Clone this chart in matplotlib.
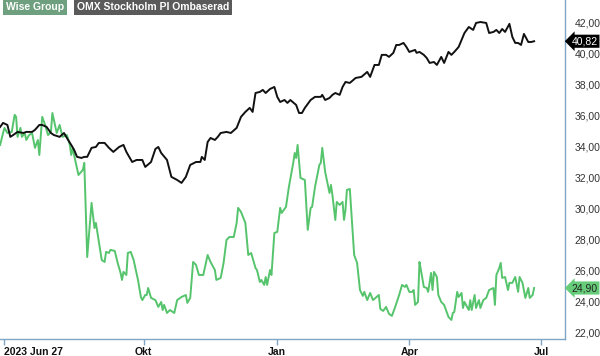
import numpy as np
import pandas as pd
import matplotlib
matplotlib.use("Agg")
import matplotlib.pyplot as plt
from matplotlib.patches import Rectangle
import matplotlib.transforms as mtransforms

plt.rcParams['font.family'] = ['Liberation Sans', 'DejaVu Sans']

# start date of the chart, series given as days after it
start = pd.Timestamp("2023-06-27")

# OMX Stockholm PI, rebased to Wise Group's start price
omx_days = [-3, -1, 2, 4, 6, 9, 13, 15, 19, 21, 24, 26, 29, 32, 34, 38, 41, 43, 46, 48,
            50, 53, 55, 57, 60, 63, 65, 69, 72, 75, 79, 82, 84, 88, 91, 95, 97, 101, 104, 106,
            108, 112, 115, 119, 122, 125, 128, 132, 135, 136, 138, 140, 142, 145, 147, 149, 153, 156, 160, 163,
            166, 169, 171, 173, 176, 178, 180, 183, 186, 188, 190, 193, 195, 197, 201, 203, 205, 207, 211, 214,
            218, 219, 221, 224, 226, 228, 231, 233, 235, 238, 242, 246, 250, 252, 255, 258, 260, 263, 265, 268,
            270, 272, 275, 277, 279, 283, 284, 286, 289, 291, 293, 296, 298, 301, 303, 306, 308, 310, 313, 315,
            317, 320, 323, 325, 328, 332, 334, 337, 339, 341, 343, 345, 348, 350, 352, 354, 356, 358, 361, 363,
            365]
omx_vals = [35.29, 35.55, 35.42, 34.65, 34.77, 34.97, 34.90, 34.97, 34.97, 35.10,
            35.42, 35.42, 35.29, 34.90, 34.77, 34.65, 34.90, 34.58, 34.13, 33.81,
            33.36, 33.29, 33.36, 33.36, 33.94, 34.00, 34.26, 34.26, 33.94, 33.68,
            34.00, 34.13, 33.68, 33.03, 33.16, 33.16, 32.71, 33.03, 33.87, 34.00,
            33.61, 33.16, 32.07, 31.87, 31.68, 32.07, 32.84, 33.03, 33.03, 33.36,
            33.16, 34.32, 34.58, 34.45, 34.65, 34.90, 34.97, 34.90, 35.23, 35.94,
            36.26, 36.52, 36.26, 37.48, 37.55, 37.68, 37.48, 37.74, 37.87, 37.23,
            36.90, 37.03, 36.84, 37.03, 36.71, 36.19, 36.19, 36.52, 37.03, 37.23,
            37.23, 37.36, 37.03, 37.16, 37.36, 37.48, 37.36, 37.87, 38.19, 38.13,
            38.45, 38.52, 38.84, 38.52, 39.29, 39.29, 39.94, 39.94, 39.81, 40.07,
            40.58, 40.58, 40.71, 40.45, 40.13, 40.26, 40.07, 40.13, 39.94, 39.74,
            39.42, 39.48, 39.29, 39.81, 39.42, 40.13, 39.94, 40.13, 40.45, 40.90,
            41.35, 41.74, 41.55, 42.00, 42.06, 42.00, 41.35, 41.42, 41.55, 41.35,
            41.61, 41.42, 41.94, 41.10, 40.71, 40.71, 40.58, 41.29, 40.77, 40.77,
            40.82]

wise_days = [-3, -1, 0, 2, 5, 7, 8, 9, 11, 12, 14, 15, 17, 19, 21, 23, 24, 26, 28, 30,
             32, 33, 36, 38, 40, 43, 44, 45, 46, 47, 49, 51, 54, 55, 57, 60, 62, 63, 67, 69,
             70, 72, 73, 76, 78, 80, 81, 82, 84, 85, 87, 89, 92, 94, 95, 97, 98, 99, 101, 104,
             106, 108, 109, 110, 112, 114, 117, 119, 122, 125, 126, 128, 130, 132, 134, 137, 140, 142, 145, 146,
             149, 151, 153, 155, 158, 160, 161, 163, 166, 168, 170, 173, 174, 176, 177, 179, 180, 181, 183, 184,
             186, 188, 190, 191, 194, 196, 199, 200, 201, 202, 204, 207, 209, 211, 212, 214, 217, 218, 219, 221,
             224, 225, 226, 228, 229, 231, 233, 234, 235, 236, 238, 241, 243, 245, 247, 248, 250, 252, 254, 258,
             259, 261, 263, 265, 267, 269, 272, 274, 276, 277, 279, 281, 282, 283, 285, 286, 287, 289, 291, 292,
             294, 295, 296, 298, 299, 301, 303, 306, 308, 309, 310, 312, 313, 315, 316, 317, 320, 321, 322, 324,
             325, 327, 328, 330, 332, 334, 337, 338, 339, 341, 342, 343, 345, 347, 348, 350, 352, 354, 355, 357,
             359, 361, 362, 364, 365]
wise_vals = [34.13, 34.90, 35.23, 34.90, 34.97, 36.07, 35.94, 34.65, 35.23, 34.65,
             34.90, 34.45, 34.77, 34.90, 33.94, 34.45, 33.48, 35.94, 35.42, 34.77,
             34.97, 36.19, 34.90, 35.42, 34.65, 34.77, 34.45, 34.13, 33.48, 33.94,
             33.03, 32.19, 32.52, 32.97, 26.90, 30.39, 28.77, 29.10, 26.71, 26.58,
             27.23, 27.16, 27.36, 27.29, 26.52, 25.87, 25.42, 25.94, 25.74, 27.16,
             27.23, 26.71, 25.42, 24.32, 24.12, 24.45, 24.45, 24.90, 24.26, 24.12,
             23.68, 24.00, 23.48, 23.81, 23.29, 23.48, 23.29, 24.12, 24.32, 24.45,
             23.94, 24.26, 26.58, 26.39, 25.74, 25.74, 27.03, 26.58, 26.06, 25.42,
             25.55, 26.52, 28.00, 28.19, 28.19, 29.10, 30.07, 29.81, 29.10, 27.03,
             27.16, 26.19, 26.06, 25.29, 25.42, 25.10, 25.61, 25.10, 26.06, 25.74,
             28.45, 28.52, 30.07, 29.74, 30.13, 31.42, 32.97, 33.61, 33.29, 34.13,
             32.00, 31.87, 28.65, 30.07, 30.13, 31.42, 32.84, 32.97, 33.94, 32.39,
             31.03, 31.55, 30.90, 29.29, 30.45, 30.26, 30.45, 29.29, 29.94, 31.23,
             31.29, 27.03, 26.52, 24.77, 24.39, 24.65, 24.12, 24.58, 24.12, 24.45,
             23.55, 23.42, 23.68, 23.23, 23.10, 23.61, 24.45, 25.10, 24.97, 25.10,
             24.65, 24.65, 24.77, 23.81, 24.00, 26.58, 26.06, 24.97, 24.90, 24.65,
             25.87, 24.77, 25.94, 25.61, 24.45, 24.00, 23.81, 23.03, 22.84, 23.29,
             23.35, 24.65, 24.32, 24.58, 23.61, 24.00, 23.48, 24.12, 23.48, 24.45,
             23.61, 24.12, 23.61, 24.12, 24.26, 24.77, 24.90, 23.81, 25.74, 26.19,
             26.52, 25.55, 25.61, 24.77, 25.23, 25.23, 25.61, 24.65, 25.61, 25.23,
             24.26, 24.90, 24.26, 24.45, 24.90]

tick_dates = ["2023-06-27", "2023-10-01", "2024-01-01", "2024-04-01", "2024-07-01"]
tick_labels = ["2023 Jun 27", "Okt", "Jan", "Apr", "Jul"]
y_ticks = [22, 24, 26, 28, 30, 32, 34, 36, 38, 40, 42]

green = "#55c46c"
axis_col = "#7fa6c6"

omx_dates = start + pd.to_timedelta(omx_days, unit="D")
wise_dates = start + pd.to_timedelta(wise_days, unit="D")

fig = plt.figure(figsize=(6, 3.56), dpi=100)
ax = fig.add_axes([0, 1 - 339 / 356, 565 / 600, 339 / 356])

ax.plot(wise_dates, wise_vals, color=green, lw=1.4, solid_joinstyle="round")
ax.plot(omx_dates, omx_vals, color="#111111", lw=1.4, solid_joinstyle="round")

ax.set_xlim(start - pd.Timedelta(days=3.1), start + pd.Timedelta(days=386.3))
ax.set_ylim(21.61, 43.48)

for s in ["left", "top"]:
    ax.spines[s].set_visible(False)
for s in ["right", "bottom"]:
    ax.spines[s].set_color(axis_col)
    ax.spines[s].set_linewidth(1.0)

ax.set_xticks(pd.to_datetime(tick_dates))
ax.set_xticklabels(tick_labels, fontweight="bold", fontsize=7.5, color="#111111")
ax.get_xticklabels()[0].set_ha("left")
ax.tick_params(axis="x", direction="out", length=4, width=1, color=axis_col, pad=2)

ax.yaxis.tick_right()
ax.set_yticks(y_ticks)
ax.set_yticklabels([("%.2f" % v).replace(".", ",") for v in y_ticks], fontsize=7.5, color="#333333")
ax.tick_params(axis="y", length=0, pad=7)

# last value tags on the right axis
trans = mtransforms.blended_transform_factory(ax.transAxes, ax.transData)
ax.text(1.012, omx_vals[-1], ("%.2f" % omx_vals[-1]).replace(".", ","), transform=trans,
        ha="left", va="center", fontsize=7.5, color="white", clip_on=False,
        bbox=dict(boxstyle="larrow,pad=0.15", fc="black", ec="none"))
ax.text(1.012, wise_vals[-1], ("%.2f" % wise_vals[-1]).replace(".", ","), transform=trans,
        ha="left", va="center", fontsize=7.5, color="#222222", clip_on=False,
        bbox=dict(boxstyle="larrow,pad=0.15", fc="#66cc7a", ec="none"))

# legend boxes top-left
t1 = fig.text(6 / 600, 1 - 7 / 356, "Wise Group", ha="left", va="center", fontsize=7.5,
              fontweight="bold", color="white",
              bbox=dict(boxstyle="square,pad=0.25", fc="#6e9f7e", ec="none"))
t2 = fig.text(77 / 600, 1 - 7 / 356, "OMX Stockholm PI Ombaserad", ha="left", va="center", fontsize=7.5,
              fontweight="bold", color="white",
              bbox=dict(boxstyle="square,pad=0.25", fc="#5a5a5a", ec="none"))
fig.canvas.draw()
inv = fig.transFigure.inverted()
for t, c in [(t1, green), (t2, "#111111")]:
    bb = t.get_bbox_patch().get_window_extent()
    (x0, y0), (x1, y1) = inv.transform([[bb.x0, bb.y0], [bb.x1, bb.y1]])
    fig.add_artist(Rectangle((x0, y0), x1 - x0, 2 / 356, transform=fig.transFigure,
                             fc=c, ec="none"))

fig.savefig("out.png", dpi=100)
